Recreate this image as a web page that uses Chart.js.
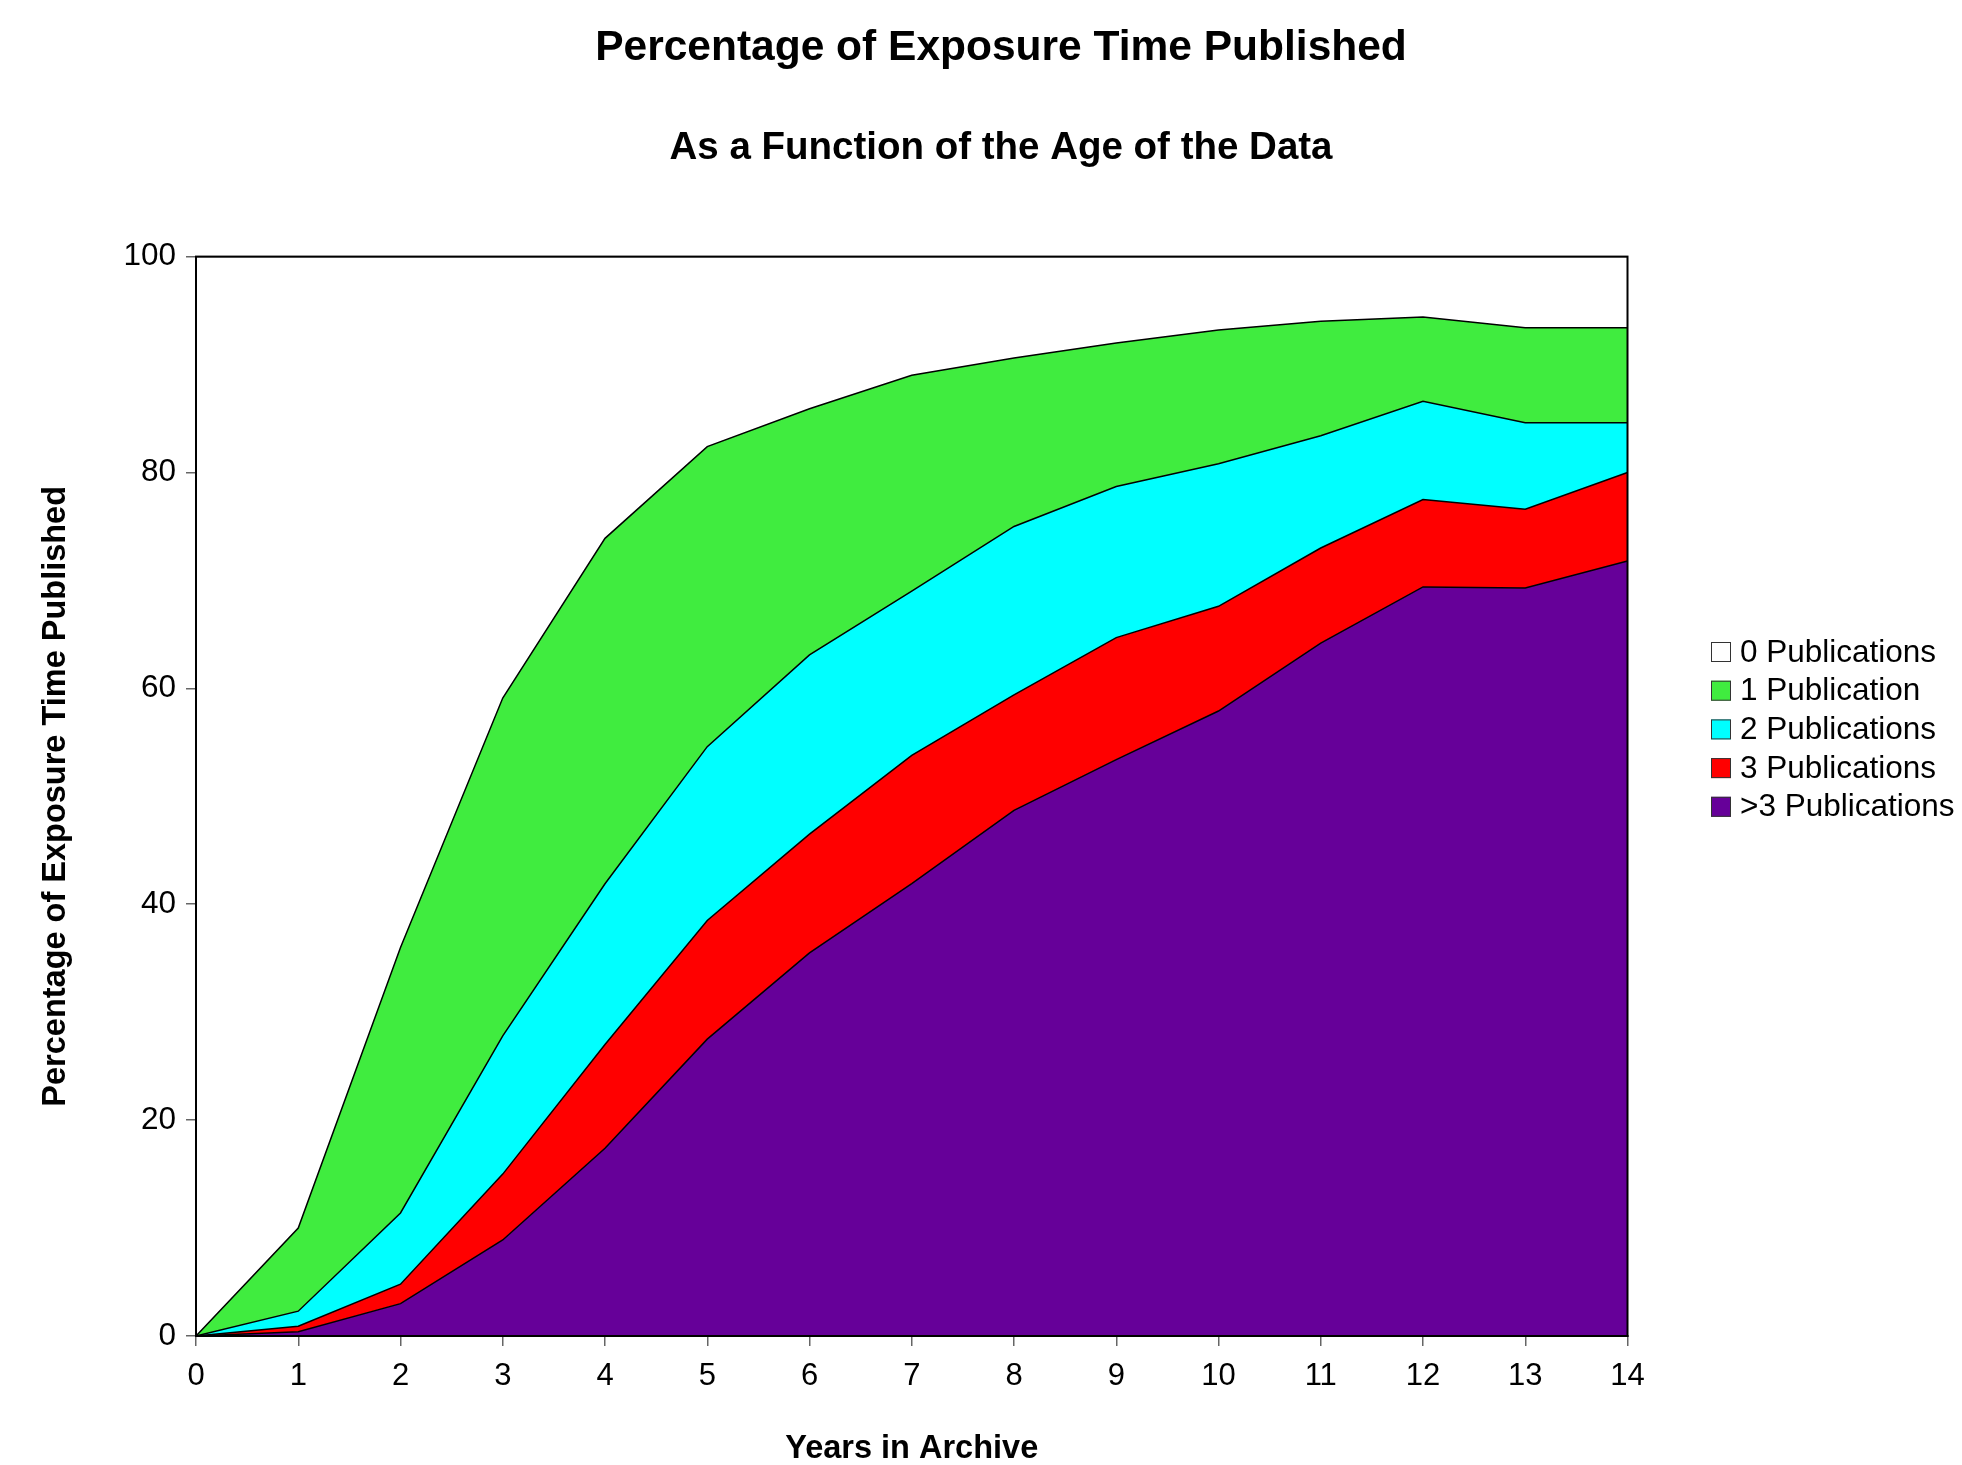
<!DOCTYPE html>
<html>
<head>
<meta charset="utf-8">
<title>Percentage of Exposure Time Published</title>
<script src="https://cdn.jsdelivr.net/npm/chart.js@4.4.1/dist/chart.umd.min.js"></script>
<style>
    html, body { margin: 0; padding: 0; background: #fff; }
    #wrap { position: relative; width: 1962px; height: 1465px; }
</style>
</head>
<body>
<div id="wrap"><canvas id="areaChart"></canvas></div>
<script>
// Years in archive (x axis categories)
const years = ['0', '1', '2', '3', '4', '5', '6', '7', '8', '9', '10', '11', '12', '13', '14'];

// Share of exposure time per publication count (percent, stacked from the bottom up)
const moreThan3Pubs = [0, 0.4, 3.0, 8.9, 17.4, 27.5, 35.5, 41.9, 48.7, 53.4, 57.9, 64.2, 69.4, 69.3, 71.8];
const threePubs     = [0, 0.5, 1.8, 6.1, 9.6, 11.0, 11.0, 11.9, 10.7, 11.3, 9.7, 8.8, 8.1, 7.3, 8.2];
const twoPubs       = [0, 1.4, 6.6, 12.8, 14.9, 16.1, 16.6, 15.2, 15.6, 14.0, 13.2, 10.4, 9.1, 8.0, 4.6];
const onePub        = [0, 7.7, 24.6, 31.3, 32.0, 27.8, 22.8, 20.0, 15.6, 13.3, 12.4, 10.6, 7.8, 8.8, 8.8];
const zeroPubs      = [100, 90.0, 64.0, 40.9, 26.1, 17.6, 14.1, 11.0, 9.4, 8.0, 6.8, 6.0, 5.6, 6.6, 6.6];

// Y axis ticks
const yTicks = [0, 20, 40, 60, 80, 100];

const FONT = '"Liberation Sans", Arial, sans-serif';

// Legend lists the series top-down, the reverse of the stacking order
const legendOrder = [4, 3, 2, 1, 0];

// Draws the frame round the plot and the legend on the right
const frameAndLegend = {
    id: 'frameAndLegend',
    afterDraw(chart) {
        const { ctx, chartArea } = chart;
        ctx.save();
        ctx.strokeStyle = '#000';
        ctx.lineWidth = 2;
        ctx.strokeRect(chartArea.left, chartArea.top, chartArea.right - chartArea.left, chartArea.bottom - chartArea.top);

        ctx.font = '31.5px ' + FONT;
        ctx.textBaseline = 'middle';
        ctx.textAlign = 'left';
        legendOrder.forEach((dsIndex, row) => {
            const ds = chart.data.datasets[dsIndex];
            const cy = 652 + row * 38.7;
            ctx.fillStyle = ds.backgroundColor;
            ctx.fillRect(1711, cy - 10, 20, 20);
            ctx.lineWidth = 1;
            ctx.strokeStyle = '#333';
            ctx.strokeRect(1711.5, cy - 9.5, 19, 19);
            ctx.fillStyle = '#000';
            ctx.fillText(ds.label, 1740, cy + 1);
        });
        ctx.restore();
    }
};

function makeSeries(label, values, colour, fill) {
    return {
        label: label,
        data: values,
        backgroundColor: colour,
        borderColor: '#000',
        borderWidth: 1.5,
        fill: fill,
        pointRadius: 0,
        tension: 0
    };
}

const ctx = document.getElementById('areaChart').getContext('2d');
new Chart(ctx, {
    type: 'line',
    data: {
        labels: years,
        datasets: [
            makeSeries('>3 Publications', moreThan3Pubs, '#660099', 'origin'),
            makeSeries('3 Publications', threePubs, '#ff0000', '-1'),
            makeSeries('2 Publications', twoPubs, '#00ffff', '-1'),
            makeSeries('1 Publication', onePub, '#40ec3f', '-1'),
            makeSeries('0 Publications', zeroPubs, '#ffffff', '-1')
        ]
    },
    options: {
        responsive: true,
        maintainAspectRatio: false,
        animation: false,
        layout: { padding: { left: 40, right: 0, top: 0, bottom: 0 } },
        plugins: {
            legend: { display: false },
            tooltip: { enabled: false },
            title: {
                display: true,
                text: 'Percentage of Exposure Time Published',
                color: '#000',
                font: { family: FONT, size: 42.5, weight: 'bold' },
                padding: { top: 23.2, bottom: 51.5 }
            },
            subtitle: {
                display: true,
                text: 'As a Function of the Age of the Data',
                color: '#000',
                font: { family: FONT, size: 38.5, weight: 'bold' },
                padding: { top: 0, bottom: 84.7 }
            }
        },
        scales: {
            x: {
                type: 'category',
                offset: false,
                afterFit(scale) { scale.height = 129; },
                grid: { drawOnChartArea: false, drawTicks: true, tickLength: 10, color: '#666', lineWidth: 1.5 },
                border: { color: '#000', width: 2 },
                ticks: { color: '#000', padding: 12, font: { family: FONT, size: 31 }, maxRotation: 0, autoSkip: false },
                title: {
                    display: true,
                    text: 'Years in Archive',
                    color: '#000',
                    font: { family: FONT, size: 32.5, weight: 'bold' },
                    padding: { top: 0, bottom: -3.75 }
                }
            },
            y: {
                stacked: true,
                min: 0,
                max: 100,
                afterFit(scale) { scale.width = 156; },
                afterBuildTicks(scale) { scale.ticks = yTicks.map(v => ({ value: v })); },
                grid: { drawOnChartArea: false, drawTicks: true, tickLength: 10, color: '#666', lineWidth: 1.5 },
                border: { color: '#000', width: 2 },
                ticks: { color: '#000', padding: 10, font: { family: FONT, size: 31.5 } },
                title: {
                    display: true,
                    text: 'Percentage of Exposure Time Published',
                    color: '#000',
                    font: { family: FONT, size: 32.5, weight: 'bold' },
                    padding: { top: -3, bottom: 0 }
                }
            },
            // empty box on the right that keeps room for the legend
            legendRoom: {
                type: 'linear',
                axis: 'y',
                position: 'right',
                afterFit(scale) { scale.width = 334.5; },
                grid: { display: false },
                border: { display: false },
                ticks: { display: false }
            }
        }
    },
    plugins: [frameAndLegend]
});
</script>
</body>
</html>
